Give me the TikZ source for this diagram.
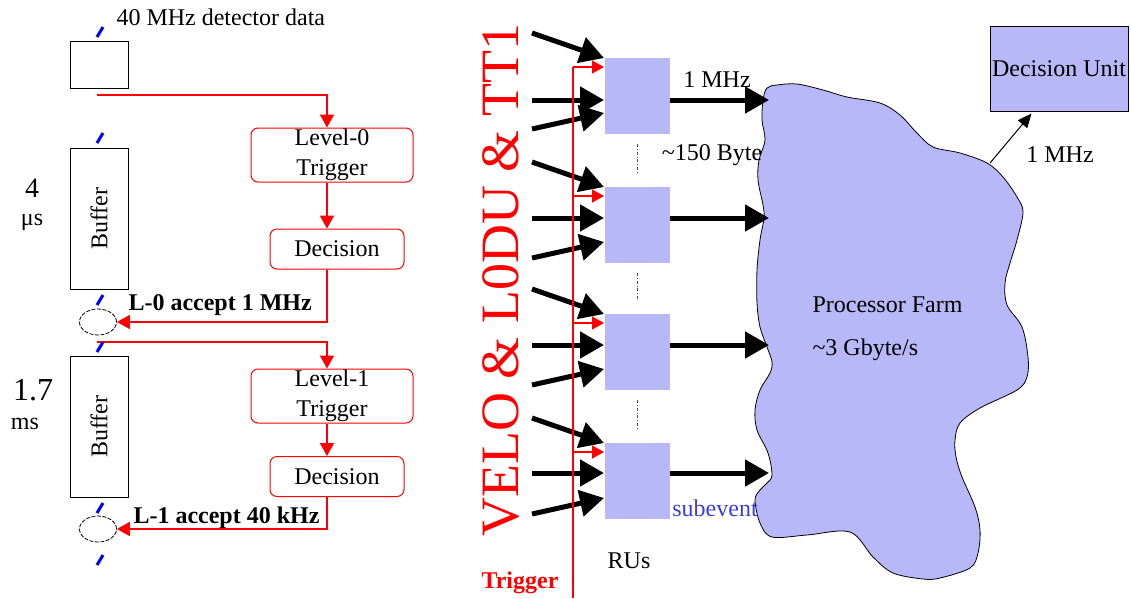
\documentclass[tikz,border=0pt]{standalone}
\usepackage{fontspec}
\setmainfont{Liberation Serif}
\usetikzlibrary{arrows.meta,shapes.geometric}
\definecolor{farmblue}{RGB}{184,184,248}
\definecolor{subblue}{RGB}{60,60,220}
\definecolor{trigred}{RGB}{255,0,0}

\begin{document}
\begin{tikzpicture}[x=1pt,y=-1pt,line width=1pt,
    every node/.style={font=\fontsize{24}{30}\selectfont, inner sep=0pt},
    buf/.style={draw=black, rotate=90, minimum width=141pt, minimum height=58pt},
    trigbox/.style={draw=trigred, rounded corners=7pt, align=center, minimum width=162pt, minimum height=54pt},
    decbox/.style={draw=trigred, rounded corners=7pt, minimum width=134pt, minimum height=40pt},
    acc/.style={draw=black, ellipse, line width=0.8pt, dash pattern=on 4pt off 1.5pt, minimum width=37pt, minimum height=26pt},
    redarr/.style={draw=trigred, line width=1.5pt, -{Triangle[width=14pt,length=13pt]}},
    tick/.style={draw=blue, line width=3pt},
    ru/.style={fill=farmblue, minimum width=65pt, minimum height=76pt},
    fat/.style={line width=5pt, -{Triangle[width=26pt,length=24pt]}},
    boldlbl/.style={font=\fontsize{24}{30}\selectfont\bfseries}]

    \useasboundingbox (0,0) rectangle (1131,598);

    % left half: buffers and the two trigger levels
    \node[anchor=west] (data) at (116,17) {40 MHz detector data};
    \node[draw=black, minimum width=58pt, minimum height=47pt] (inbox) at (99,64.5) {};
    \node[buf] (buf0) at (99,218.5) {Buffer};
    \node[buf] (buf1) at (99,426.5) {Buffer};

    \node[trigbox] (lv0) at (332,155) {Level-0\\Trigger};
    \node[decbox] (dec0) at (337,249) {Decision};
    \node[trigbox] (lv1) at (332,396) {Level-1\\Trigger};
    \node[decbox] (dec1) at (337,476.5) {Decision};

    \node[acc] (acc0) at (98,322) {};
    \node[acc] (acc1) at (98,529) {};
    \node[boldlbl, anchor=west] (acc0txt) at (128,305) {L-0 accept 1 MHz};
    \node[boldlbl, anchor=west] (acc1txt) at (133,518) {L-1 accept 40 kHz};

    \node[font=\fontsize{28}{30}\selectfont] (t0) at (32,188) {4};
    \node (t0u) at (32,222) {μs};
    \node[font=\fontsize{32}{34}\selectfont] (t1) at (33,390) {1.7};
    \node (t1u) at (25,424) {ms};

    \coordinate (tap0) at (97,95);
    \coordinate (bus0) at (327,95);
    \coordinate (tap1) at (97,342);
    \coordinate (bus1) at (327,342);
    \draw[redarr] (tap0) -- (bus0) -- (bus0 |- lv0.north);
    \draw[redarr] (bus0 |- lv0.south) -- (bus0 |- dec0.north);
    \draw[redarr] (bus0 |- dec0.south) |- (acc0.east);
    \draw[redarr] (tap1) -- (bus1) -- (bus1 |- lv1.north);
    \draw[redarr] (bus1 |- lv1.south) -- (bus1 |- dec1.north);
    \draw[redarr] (bus1 |- dec1.south) |- (acc1.east);

    \foreach \y in {37,143,305,352,513,565}
        \draw[tick] (97,\y) -- ++(6,-10);

    % right half: readout units and the farm
    \node[rotate=90, trigred, font=\fontsize{54}{54}\selectfont] (src) at (501,280) {VELO \& L0DU \& TT1};
    \node[boldlbl, trigred] (trg) at (520,583) {Trigger};
    \node (rus) at (629,561) {RUs};

    \draw[fill=farmblue, line width=0.8pt] plot[smooth cycle, tension=0.55] coordinates {
        (767,88) (777,85) (797,84) (823,90) (847,97) (880,103) (900,115)
        (917,133) (933,147) (960,153) (987,163) (1003,177) (1017,197)
        (1023,212) (1017,240) (1010,263) (1005,283) (1007,305) (1022,327)
        (1028,357) (1027,377) (1017,390) (980,408) (960,423) (955,440)
        (956,457) (962,477) (975,507) (980,530) (978,553) (970,568)
        (940,578) (923,579) (893,573) (873,557) (850,532) (807,535)
        (772,537) (760,523) (755,500) (760,490) (767,483) (772,475)
        (768,453) (757,430) (755,410) (760,390) (770,373) (772,362)
        (767,347) (760,327) (757,303) (757,270) (760,240) (764,218)
        (763,205) (758,180) (759,160) (765,140) (762,120) (763,100)};

    \node[draw=black, fill=farmblue, minimum width=138pt, minimum height=85pt] (du) at (1059,68.5) {Decision Unit};
    \coordinate (farmout) at (990,163);
    \draw[-{Triangle[width=12pt,length=14pt]}] (farmout) -- ([xshift=42pt,yshift=-2pt]du.south west);

    \foreach \i/\t/\m in {1/57/100,2/186/218,3/313/345,4/442/473} {
        \node[ru, anchor=north west] (ru\i) at (604,\t) {};
        \coordinate (a\i) at (532,{\t-24});
        \coordinate (b\i) at (532,\m);
        \coordinate (c\i) at (532,{\t+72});
        \coordinate (tb\i) at (573,{\t+10});
        \coordinate (f\i) at (769,\m);
        \draw[fat] (a\i) -- ([yshift=-1pt]ru\i.north west);
        \draw[fat] (b\i) -- (ru\i.west |- b\i);
        \draw[fat] (c\i) -- ([yshift=-56pt]ru\i.north west);
        \draw[draw=trigred, line width=1.5pt, -{Triangle[width=13pt,length=12pt]}] (tb\i) -- (ru\i.west |- tb\i);
        \draw[fat] (ru\i.east |- f\i) -- (f\i);
    }
    \coordinate (trgbot) at (573,598);
    \draw[trigred, line width=1.5pt] (trgbot) -- (tb1);

    \foreach \i/\j in {1/2,2/3,3/4}
        \draw[black!70, line width=0.7pt, dash dot] ([yshift=-10pt]ru\i.south) -- ([yshift=13pt]ru\j.north);

    \node (rate) at (717,80) {1 MHz};
    \node (size) at (712,155) {\textasciitilde150 Byte};
    \node[text=subblue] (sub) at (715,508) {subevent};
    \node (durate) at (1060,155) {1 MHz};
    \node[anchor=west] (farm) at (812,305) {Processor Farm};
    \node[anchor=west] (bw) at (812,350) {\textasciitilde3 Gbyte/s};

\end{tikzpicture}
\end{document}
